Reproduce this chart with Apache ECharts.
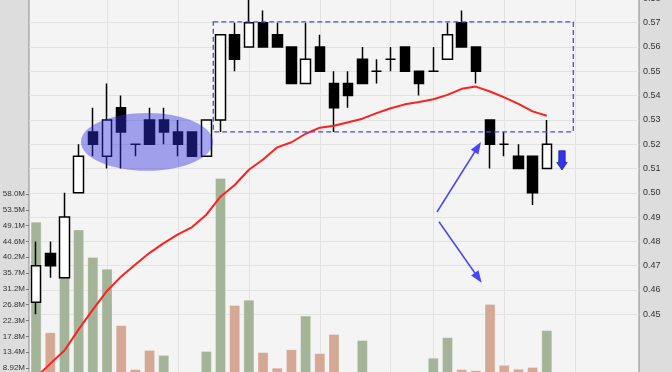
<!DOCTYPE html>
<html>
<head>
<meta charset="utf-8">
<script src="https://cdn.jsdelivr.net/npm/echarts@6/dist/echarts.min.js"></script>
<style>
html,body{margin:0;padding:0;background:#dddddd;}
#c{width:672px;height:372px;}
</style>
</head>
<body>
<div id="c"></div>
<script>
// ---------- data ----------
const categories = Array.from({length: 43}, (_, i) => 'D' + (i + 1));
const opens  = [0.455,0.475,0.465,0.500,0.525,0.515,0.535,0.520,0.530,0.530,0.525,0.525,0.515,0.530,0.565,0.560,0.570,0.565,0.560,0.545,0.560,0.545,0.545,0.555,0.550,0.555,0.560,0.550,0.550,0.555,0.570,0.560,0.530,0.520,0.515,0.515,0.510];
const highs  = [0.480,0.480,0.500,0.520,0.535,0.545,0.540,0.520,0.535,0.535,0.530,0.525,0.530,0.565,0.570,0.580,0.575,0.570,0.560,0.570,0.565,0.550,0.550,0.560,0.555,0.560,0.560,0.550,0.560,0.570,0.575,0.560,0.530,0.525,0.520,0.515,0.530];
const lows   = [0.450,0.465,0.465,0.500,0.515,0.510,0.510,0.515,0.520,0.520,0.515,0.515,0.515,0.525,0.550,0.560,0.560,0.560,0.545,0.545,0.550,0.525,0.535,0.545,0.545,0.550,0.550,0.540,0.550,0.555,0.560,0.545,0.510,0.515,0.510,0.495,0.510];
const closes = [0.470,0.470,0.490,0.515,0.520,0.530,0.525,0.520,0.520,0.525,0.520,0.515,0.530,0.565,0.555,0.570,0.560,0.560,0.545,0.555,0.550,0.535,0.540,0.545,0.550,0.555,0.550,0.545,0.550,0.565,0.560,0.550,0.520,0.520,0.510,0.500,0.520];
// volume in millions
const volumes = [50.2,19.0,46.0,48.0,40.2,36.9,21.0,8.6,14.0,12.6,6.5,5.8,13.7,62.5,26.7,28.2,13.4,9.0,14.2,23.7,13.1,18.5,6.2,16.8,5.5,6.0,5.2,6.8,11.8,17.6,8.6,8.3,27.0,9.8,8.7,9.2,19.6];
const maValues = [0.4240,0.4297,0.4351,0.4438,0.4519,0.4596,0.4656,0.4705,0.4753,0.4793,0.4829,0.4859,0.4910,0.4984,0.5032,0.5095,0.5137,0.5187,0.5208,0.5243,0.5268,0.5276,0.5290,0.5305,0.5328,0.5348,0.5364,0.5374,0.5385,0.5403,0.5428,0.5437,0.5417,0.5393,0.5366,0.5335,0.5317];
const weekStartIdx = [5,10,15,20,25,28,33,38];
const priceMin = 0.42, priceMax = 0.58, priceStep = 0.01, priceLabelFrom = 0.45;
const volStep = 58 / 13;           // 4.46M per tick
const volLabelFrom = 2, volLabelTo = 13; // tick multiples that carry labels

// ---------- styles ----------
const GREEN = '#a4b498', PINK = '#d4a894', GRIDC = '#e2e2e2', BLUE = '#4646ff';
const L = 29, R = 33;

const volColors = volumes.map((v, i) => {
  const prev = i === 0 ? opens[0] : closes[i - 1];
  return closes[i] > prev ? GREEN : PINK;
});

const nPriceTicks = Math.round((priceMax - priceMin) / priceStep) + 1;
const splitColors = [];
for (let k = 0; k < nPriceTicks; k++) {
  const v = priceMin + k * priceStep;
  splitColors.push(v >= priceLabelFrom - 1e-6 ? GRIDC : 'rgba(0,0,0,0)');
}

const chart = echarts.init(document.getElementById('c'), null, {renderer: 'canvas'});

const hiddenX = (gi) => ({
  type: 'category', gridIndex: gi, data: categories, boundaryGap: true,
  axisLine: {show: false}, axisTick: {show: false}, axisLabel: {show: false}, splitLine: {show: false}
});

chart.setOption({
  animation: false,
  backgroundColor: '#dddddd',
  grid: [
    {left: L, right: R, top: -1.6, bottom: -15.2, show: true, backgroundColor: '#f4f4f4', borderColor: '#8c8c8c', borderWidth: 1,
     containLabel: false, outerBoundsMode: 'none'},
    {left: L, right: R, top: 194, bottom: -27.6, show: false, containLabel: false, outerBoundsMode: 'none'}
  ],
  xAxis: [hiddenX(0), hiddenX(1)],
  yAxis: [
    {
      type: 'value', gridIndex: 0, position: 'right', min: priceMin, max: priceMax, interval: priceStep,
      axisLine: {show: false}, axisTick: {show: false},
      axisLabel: {
        margin: 4, fontSize: 9, color: '#333', fontFamily: 'Liberation Sans, Arial, sans-serif',
        formatter: v => v >= priceLabelFrom - 1e-6 ? v.toFixed(2) : ''
      },
      splitLine: {show: true, lineStyle: {color: splitColors, width: 1}}
    },
    {
      type: 'value', gridIndex: 1, position: 'left', min: 0, max: volStep * volLabelTo, interval: volStep,
      axisLine: {show: false},
      axisTick: {show: true, length: 3, lineStyle: {color: '#777'}},
      axisLabel: {
        margin: 4, fontSize: 8, color: '#333', fontFamily: 'Liberation Sans, Arial, sans-serif',
        formatter: v => {
          const k = Math.round(v / volStep);
          return (k >= volLabelFrom && k <= volLabelTo) ? v.toPrecision(3) + 'M' : '';
        }
      },
      splitLine: {show: false}
    }
  ],
  series: [
    {
      name: 'weeks', type: 'line', xAxisIndex: 0, yAxisIndex: 0, data: closes,
      showSymbol: false, silent: true, lineStyle: {opacity: 0}, z: 1,
      markLine: {
        z: 1, silent: true, symbol: 'none', label: {show: false}, animation: false,
        lineStyle: {color: GRIDC, type: 'solid', width: 1},
        data: weekStartIdx.map(i => ({xAxis: i}))
      }
    },
    {
      name: 'Volume', type: 'bar', xAxisIndex: 1, yAxisIndex: 1, clip: false, barWidth: 11, z: 2,
      data: volumes.map((v, i) => ({value: v, itemStyle: {color: volColors[i], borderColor: 'rgba(255,255,255,0.25)', borderWidth: 1}}))
    },
    {
      name: 'Price', type: 'candlestick', xAxisIndex: 0, yAxisIndex: 0, barWidth: 10, z: 3,
      data: opens.map((o, i) => [o, closes[i], lows[i], highs[i]]),
      itemStyle: {color: '#ffffff', color0: '#000000', borderColor: '#000000', borderColor0: '#000000', borderWidth: 1.5}
    },
    {
      name: 'MA', type: 'line', xAxisIndex: 0, yAxisIndex: 0, data: maValues, showSymbol: false, z: 4,
      lineStyle: {color: '#ff2020', width: 2}
    }
  ]
});

// ---------- annotations (anchored in data space) ----------
const ann = {
  ellipse: {x0: 3.165, x1: 12.47, p0: 0.5091, p1: 0.5328},
  rect: {x0: 12.49, x1: 37.87, p0: 0.5251, p1: 0.5703},
  arrows: [
    {from: [28.26, 0.4921], to: [31.36, 0.5209]},
    {from: [28.40, 0.4881], to: [31.41, 0.4630]}
  ],
  down: {x: 37.07, pTop: 0.5173, pTip: 0.5094}
};

function px(ix, price) {
  const a = chart.convertToPixel({xAxisIndex: 0, yAxisIndex: 0}, [0, price]);
  const b = chart.convertToPixel({xAxisIndex: 0, yAxisIndex: 0}, [1, price]);
  return [a[0] + ix * (b[0] - a[0]), a[1]];
}

const g = [];
{
  const a = px(ann.ellipse.x0, ann.ellipse.p1), b = px(ann.ellipse.x1, ann.ellipse.p0);
  g.push({type: 'ellipse', z: 50, silent: true,
    shape: {cx: (a[0] + b[0]) / 2, cy: (a[1] + b[1]) / 2, rx: (b[0] - a[0]) / 2, ry: (b[1] - a[1]) / 2},
    style: {fill: 'rgba(47,47,225,0.43)'}});
}
{
  const a = px(ann.rect.x0, ann.rect.p1), b = px(ann.rect.x1, ann.rect.p0);
  g.push({type: 'rect', z: 50, silent: true,
    shape: {x: a[0], y: a[1], width: b[0] - a[0], height: b[1] - a[1]},
    style: {fill: 'none', stroke: BLUE, lineWidth: 1.3, lineDash: [5, 3]}});
}
ann.arrows.forEach(ar => {
  const s = px(ar.from[0], ar.from[1]), t = px(ar.to[0], ar.to[1]);
  const dx = t[0] - s[0], dy = t[1] - s[1], len = Math.hypot(dx, dy);
  const ux = dx / len, uy = dy / len, hl = 12, hw = 4.5;
  const bx = t[0] - ux * hl, by = t[1] - uy * hl;
  g.push({type: 'line', z: 50, silent: true, shape: {x1: s[0], y1: s[1], x2: bx + ux * 2, y2: by + uy * 2},
    style: {stroke: BLUE, lineWidth: 1.5}});
  g.push({type: 'polygon', z: 50, silent: true,
    shape: {points: [[t[0], t[1]], [bx - uy * hw, by + ux * hw], [bx + uy * hw, by - ux * hw]]},
    style: {fill: BLUE}});
});
{
  const top = px(ann.down.x, ann.down.pTop), tip = px(ann.down.x, ann.down.pTip);
  const cx = top[0], sw = 3.2, hw = 5.2, headStart = tip[1] - 7.5;
  g.push({type: 'polygon', z: 50, silent: true,
    shape: {points: [[cx - sw, top[1]], [cx + sw, top[1]], [cx + sw, headStart], [cx + hw, headStart], [cx, tip[1]], [cx - hw, headStart], [cx - sw, headStart]]},
    style: {fill: '#3535ee', stroke: '#1f1fa0', lineWidth: 0.8}});
}
chart.setOption({graphic: g});
</script>
</body>
</html>
